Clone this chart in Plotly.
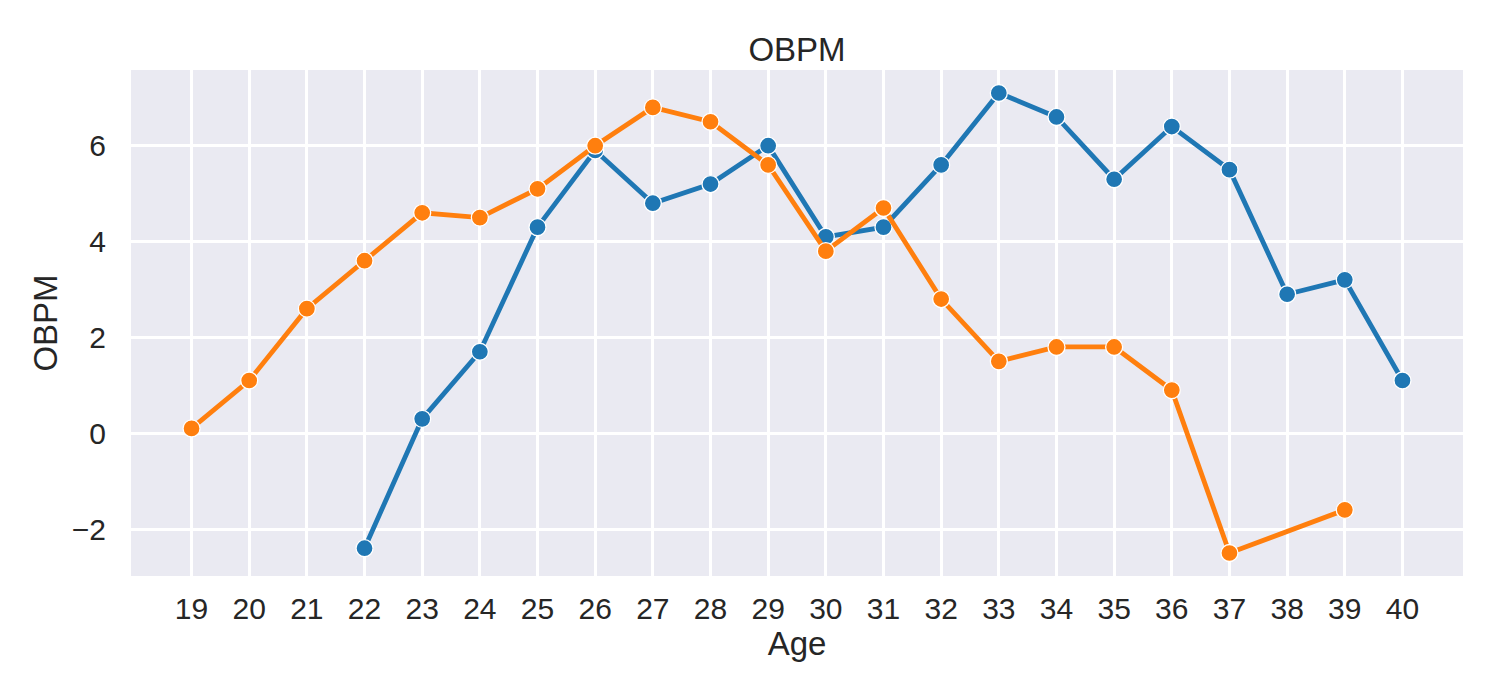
import plotly.graph_objects as go

# OBPM by age for two players
AGES_BLUE = [22, 23, 24, 25, 26, 27, 28, 29, 30, 31, 32, 33, 34, 35, 36, 37, 38, 39, 40]
OBPM_BLUE = [-2.4, 0.3, 1.7, 4.3, 5.9, 4.8, 5.2, 6.0, 4.1, 4.3, 5.6, 7.1, 6.6, 5.3, 6.4, 5.5, 2.9, 3.2, 1.1]

AGES_ORANGE = [19, 20, 21, 22, 23, 24, 25, 26, 27, 28, 29, 30, 31, 32, 33, 34, 35, 36, 37, 39]
OBPM_ORANGE = [0.1, 1.1, 2.6, 3.6, 4.6, 4.5, 5.1, 6.0, 6.8, 6.5, 5.6, 3.8, 4.7, 2.8, 1.5, 1.8, 1.8, 0.9, -2.5, -1.6]

X_TICKS = list(range(19, 41))
Y_TICKS = [-2, 0, 2, 4, 6]

BLUE = "#1f77b4"
ORANGE = "#ff7f0e"
TEXT = "#262626"
FONT = "Liberation Sans, Arial, sans-serif"


def add_series(fig, x, y, color, name):
    fig.add_trace(go.Scatter(
        x=x, y=y, mode="lines+markers", name=name,
        line=dict(color=color, width=4.8),
        marker=dict(color=color, size=17, line=dict(color="white", width=1.3)),
    ))


fig = go.Figure()
add_series(fig, AGES_BLUE, OBPM_BLUE, BLUE, "Player 1")
add_series(fig, AGES_ORANGE, OBPM_ORANGE, ORANGE, "Player 2")

# page body adds an 8px offset, margins account for it
fig.update_layout(
    width=1500, height=700,
    margin=dict(l=123, r=45, t=62, b=132),
    paper_bgcolor="white", plot_bgcolor="#EAEAF2",
    showlegend=False,
    font=dict(family=FONT, color=TEXT, size=30),
    title=dict(text="OBPM", x=(123 + 1455) / 2 / 1500, xanchor="center",
               y=1 - 41 / 700, yanchor="middle", yref="container",
               font=dict(size=33, color=TEXT)),
)
fig.update_xaxes(
    range=[17.95, 41.05], tickmode="array", tickvals=X_TICKS,
    showgrid=True, gridcolor="white", gridwidth=2.8, zeroline=False,
    showline=False, ticks="", ticklabelstandoff=12,
    tickfont=dict(size=30, color=TEXT),
    title=dict(text="Age", font=dict(size=33, color=TEXT), standoff=5),
)
fig.update_yaxes(
    range=[-2.98, 7.58], tickmode="array", tickvals=Y_TICKS,
    showgrid=True, gridcolor="white", gridwidth=2.8, zeroline=False,
    showline=False, ticks="", ticklabelstandoff=24,
    tickfont=dict(size=30, color=TEXT),
    title=dict(text="OBPM", font=dict(size=33, color=TEXT), standoff=4),
)

fig.write_html("out.html")
